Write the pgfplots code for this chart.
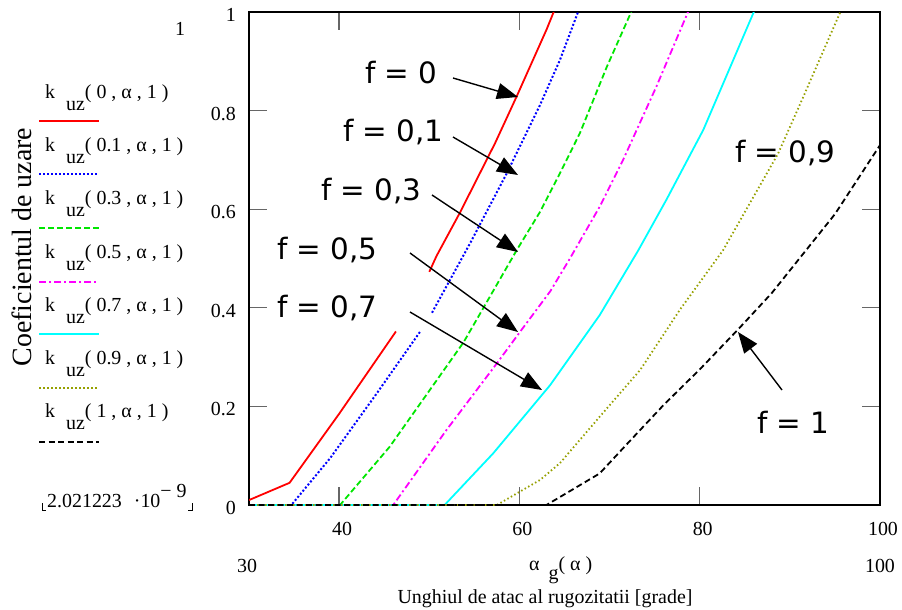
\documentclass[border=0pt]{standalone}
\usepackage{pgfplots}
\pgfplotsset{compat=1.18}
\usepackage{fontspec}
\setmainfont{Liberation Serif}
\newfontfamily\dejavu{DejaVu Sans}
\usetikzlibrary{arrows.meta}
\definecolor{cgreen}{RGB}{0,230,0}
\definecolor{colive}{RGB}{150,160,0}
\definecolor{cmag}{RGB}{255,0,255}
\definecolor{ccyan}{RGB}{0,255,255}
\newcommand\fs[1]{\fontsize{#1}{#1}\selectfont}
\tikzset{
 sred/.style={red, line width=1.8bp},
 sblue/.style={blue, line width=2bp, dash pattern=on 2bp off 2bp},
 sgreen/.style={cgreen, line width=1.8bp, dash pattern=on 6bp off 3bp},
 smag/.style={cmag, line width=1.8bp, dash pattern=on 7bp off 3bp on 2bp off 3bp},
 scyan/.style={ccyan, line width=1.8bp},
 solive/.style={colive, line width=1.8bp, dash pattern=on 1.5bp off 2.5bp},
 sblack/.style={black, line width=1.8bp, dash pattern=on 6bp off 3.5bp},
 lab/.style={font=\dejavu\fs{29.5}, inner sep=0pt, anchor=base west},
 arr/.style={line width=1.4bp, -{Triangle[length=21bp,width=16bp]}},
}
\begin{document}
\begin{tikzpicture}
\path (0,0) rectangle (902bp,-610bp);
\begin{axis}[at={(249bp,-505bp)}, anchor=south west, scale only axis,
  width=631bp, height=493bp, xmin=30, xmax=100, ymin=0, ymax=1,
  xtick={40,60,80,100}, xticklabels={\textrm{40},\textrm{60},\textrm{80},\textrm{100}},
  ytick={0,0.2,0.4,0.6,0.8,1}, yticklabels={\textrm{0},\textrm{0.2},\textrm{0.4},\textrm{0.6},\textrm{0.8},\textrm{1}},
  tick align=inside, major tick length=18bp,
  xtick pos=both, ytick pos=both, xticklabel pos=lower, yticklabel pos=left,
  tick style={draw=gray!80!black, line width=1.3bp},
  axis line style={line width=1.2bp},
  ticklabel style={font=\rmfamily\fs{20}},
  yticklabel style={inner sep=0pt, xshift=-13bp, yshift=-3bp},
  xticklabel style={inner sep=0pt, yshift=-17bp, xshift=3bp},
  unbounded coords=jump, clip=true]
\addplot[sred] coordinates {(30,0.01)(34.5,0.045)(40,0.185)(46.3,0.352)(48,nan)(50.0,0.473)(50.8,0.505)(53.4,0.593)(57.3,0.734)(59.7,0.829)(63.0,0.964)(63.8,1.0)(64.3,1.02)};
\addplot[sblue] coordinates {(30,0)(34.7,0)(39,0.095)(44,0.222)(49.0,0.352)(49.6,nan)(50.3,0.39)(54.5,0.53)(58.6,0.673)(62.3,0.812)(64.5,0.903)(66.5,1.0)(67,1.02)};
\addplot[sgreen] coordinates {(30,0)(40.1,0)(45.6,0.118)(53.8,0.33)(59.7,0.517)(62.3,0.595)(64.5,0.673)(66.7,0.754)(69.7,0.889)(72.4,1.0)(72.9,1.02)};
\addplot[smag] coordinates {(30,0)(46.0,0)(51.9,0.152)(57.4,0.285)(60.1,0.352)(63.4,0.433)(65.6,0.50)(68.9,0.605)(71.5,0.70)(75.2,0.849)(78.7,1.0)(79.2,1.02)};
\addplot[scyan] coordinates {(30,0)(51.7,0)(57.1,0.105)(63.4,0.243)(68.9,0.385)(73.2,0.517)(76.3,0.619)(80.4,0.761)(84.5,0.936)(86.0,1.0)(86.4,1.02)};
\addplot[solive] coordinates {(30,0)(57.5,0)(62.3,0.051)(64.5,0.085)(68.9,0.179)(73.4,0.274)(77.8,0.396)(82.6,0.517)(88.7,0.713)(91.3,0.82)(95.6,1.0)(96,1.02)};
\addplot[sblack] coordinates {(30,0)(63.0,0)(68.9,0.064)(72,0.125)(76,0.203)(80,0.275)(84.2,0.355)(88,0.43)(91.5,0.51)(95,0.59)(100,0.73)};
\end{axis}
\begin{scope}[x=1bp, y=-1bp]
% annotations
\node[lab] at (365,83) {f = 0};
\node[lab] at (343,141) {f = 0,1};
\node[lab] at (321,200) {f = 0,3};
\node[lab] at (277,259) {f = 0,5};
\node[lab] at (277,317) {f = 0,7};
\node[lab] at (735,162.5) {f = 0,9};
\node[lab] at (757,433) {f = 1};
\draw[arr] (453,78) -- (518,97);
\draw[arr] (453,137) -- (518,175);
\draw[arr] (432,195) -- (518,252);
\draw[arr] (410,253) -- (518,332);
\draw[arr] (410,312) -- (542,390);
\draw[arr] (782,390) -- (738,332);
% left legend block
\node[font=\fs{20}, inner sep=0pt] at (180,29) {1};
\foreach \b/\f in {98/0, 151/0.1, 204/0.3, 258/0.5, 311/0.7, 364/0.9, 417/1}
  \node[font=\fs{20}, inner sep=0pt, anchor=base west] at (45,\b) {k\hspace{0.55em}\raisebox{-12bp}{uz}( \f\ , α , 1 )};
\draw[sred]   (39,121)   -- (99,121);
\draw[sblue]  (39,174)   -- (99,174);
\draw[sgreen] (39,228.3) -- (99,228.3);
\draw[smag]   (39,281.7) -- (99,281.7);
\draw[scyan]  (39,334.3) -- (99,334.3);
\draw[solive] (39,387.7) -- (99,387.7);
\draw[sblack] (39,441.7) -- (99,441.7);
\node[font=\fs{20}, inner sep=0pt, anchor=base west] at (47,507) {2.021223\hspace{0.6em}·10\raisebox{10bp}{− 9}};
\draw[line width=0.8bp] (42,503) -- (42,510) -- (46,510);
\draw[line width=0.8bp] (192,503) -- (192,510) -- (188,510);
\node[font=\fs{28}, inner sep=0pt, rotate=90] at (22,247) {Coeficientul de uzare};
% x axis limits and labels
\node[font=\fs{20}, inner sep=0pt, anchor=base] at (247,572) {30};
\node[font=\fs{20}, inner sep=0pt, anchor=base] at (880,572) {100};
\node[font=\fs{20}, inner sep=0pt, anchor=base west] at (529,570) {α\hspace{0.45em}\raisebox{-9bp}{g}( α )};
\node[font=\fs{20}, inner sep=0pt, anchor=base] at (545,603) {Unghiul de atac al rugozitatii [grade]};
\end{scope}
\end{tikzpicture}
\end{document}
